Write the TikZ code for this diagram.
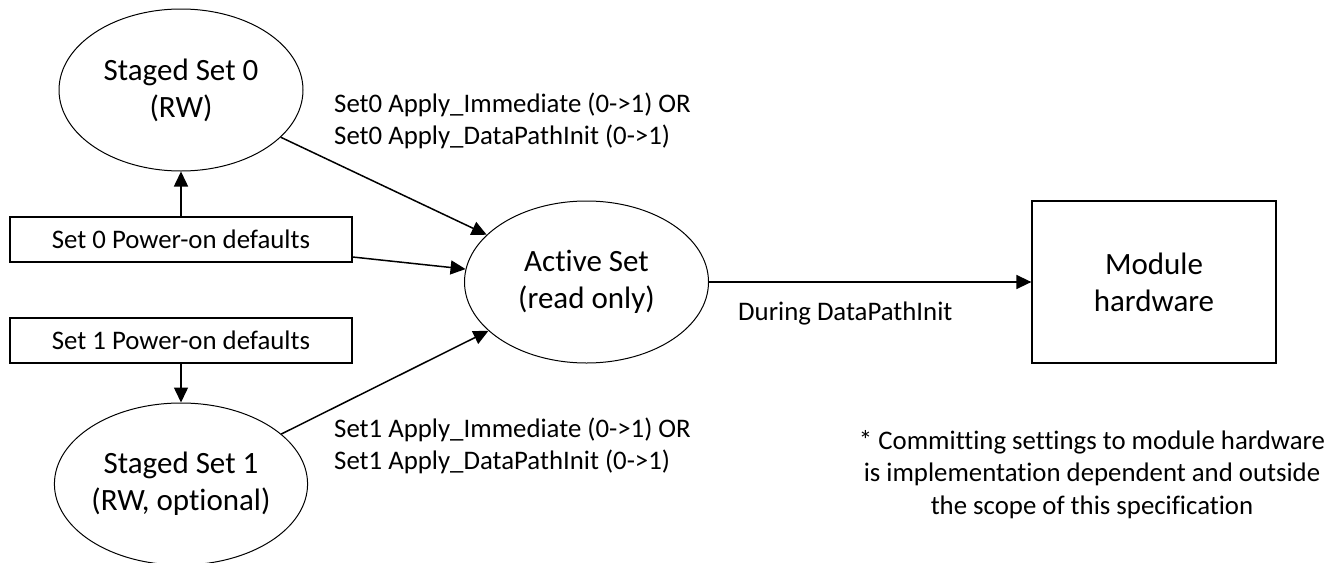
\documentclass[tikz,border=0pt]{standalone}
\usepackage{fontspec}
\setmainfont{Carlito}[Ligatures=NoCommon]
\usetikzlibrary{shapes.geometric,arrows.meta,calc}
\begin{document}
\begin{tikzpicture}[x=1pt,y=-1pt,
  big/.style={font=\fontsize{31}{37}\selectfont, align=center},
  small/.style={font=\fontsize{26.8}{32.5}\selectfont},
  setell/.style={draw, ellipse, line width=1pt, minimum width=244pt, minimum height=162pt, inner sep=0pt, big},
  defbox/.style={draw, rectangle, line width=1.3pt, minimum width=342pt, minimum height=45pt, inner sep=0pt, small},
  hwbox/.style={draw, rectangle, line width=1.3pt, minimum width=244pt, minimum height=162pt, inner sep=0pt, big},
  arr/.style={line width=1.5pt, -{Triangle[length=15pt,width=14pt]}},
  lbl/.style={small, align=left, inner sep=0pt, anchor=west}
]
\useasboundingbox (0,0) rectangle (1343,562);
\node[setell] (s0) at (181,90) {Staged Set 0\\(RW)};
\node[setell] (s1) at (181,484) {Staged Set 1\\(RW, optional)};
\node[setell] (act) at (586.5,282) {Active Set\\(read only)};
\node[hwbox] (mod) at (1154,282) {Module\\hardware};
\node[defbox] (p0) at (181,239.5) {Set 0 Power-on defaults};
\node[defbox] (p1) at (181,340.5) {Set 1 Power-on defaults};
\coordinate (p0out) at ($(p0.east)+(0,17.5)$);

\draw[arr] (p0) -- (s0);
\draw[arr] (p1) -- (s1);
\draw[arr] (s0) -- (act);
\draw[arr] (s1) -- (act);
\draw[arr] (p0out) -- (act);
\draw[arr] (act) -- (mod);

\node[lbl] (l0) at (334,121) {Set0 Apply\_Immediate (0->1) OR\\Set0 Apply\_DataPathInit (0->1)};
\node[lbl] (l1) at (334,446) {Set1 Apply\_Immediate (0->1) OR\\Set1 Apply\_DataPathInit (0->1)};
\node[lbl] (l2) at (738,313) {During DataPathInit};
\node[small, align=center, inner sep=0pt] (note) at (1092,474.5) {* Committing settings to module hardware\\is implementation dependent and outside\\the scope of this specification};
\end{tikzpicture}
\end{document}
